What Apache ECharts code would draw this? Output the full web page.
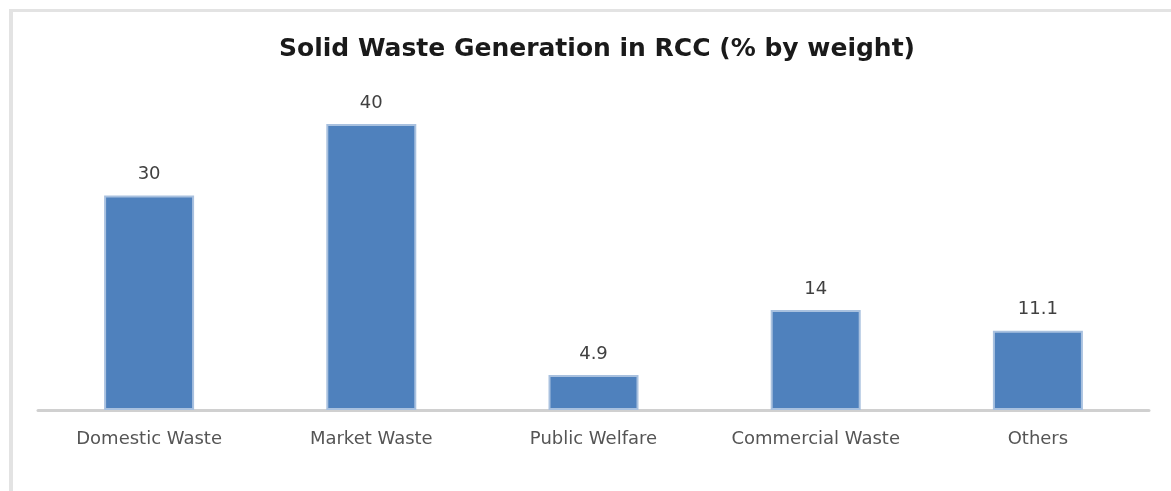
<!DOCTYPE html>
<html>
<head>
<meta charset="utf-8">
<script src="https://cdn.jsdelivr.net/npm/echarts@6/dist/echarts.min.js"></script>
<style>
  html, body { margin: 0; padding: 0; background: #fff; }
  #frame { position: absolute; left: 9px; top: 9px; width: 1162px; height: 482px;
           border-left: 4px solid #e3e3e3; border-top: 3px solid #e3e3e3; box-sizing: border-box; }
  #chart { position: absolute; left: 0; top: 0; width: 1171px; height: 491px; }
</style>
</head>
<body>
<div id="frame"></div>
<div id="chart"></div>
<script>
// Solid waste composition, % by weight
const categories = ['Domestic Waste', 'Market Waste', 'Public Welfare', 'Commercial Waste', 'Others'];
const shares = [30, 40, 4.9, 14, 11.1];

const chart = echarts.init(document.getElementById('chart'));
chart.setOption({
  animation: false,
  title: {
    text: 'Solid Waste Generation in RCC (% by weight)',
    left: 592,
    top: 32,
    textAlign: 'center',
    textStyle: { fontFamily: 'DejaVu Sans', fontWeight: 'bold', fontSize: 25, color: '#1a1a1a' }
  },
  grid: { left: 38, right: 22, top: 124, bottom: 81 },
  xAxis: {
    type: 'category',
    data: categories,
    axisLine: { lineStyle: { color: '#d0d0d0', width: 3 } },
    axisTick: { show: false },
    axisLabel: { margin: 20, fontFamily: 'DejaVu Sans', fontSize: 18, color: '#555555' }
  },
  yAxis: {
    type: 'value',
    min: 0,
    max: 40,
    show: false,
    splitLine: { show: false }
  },
  series: [{
    type: 'bar',
    data: shares,
    barWidth: 90,
    itemStyle: { color: '#4f81bd', borderColor: '#a9c1df', borderWidth: 2 },
    label: {
      show: true,
      position: 'top',
      distance: 12,
      fontFamily: 'DejaVu Sans',
      fontSize: 18,
      color: '#404040'
    }
  }]
});
</script>
</body>
</html>
